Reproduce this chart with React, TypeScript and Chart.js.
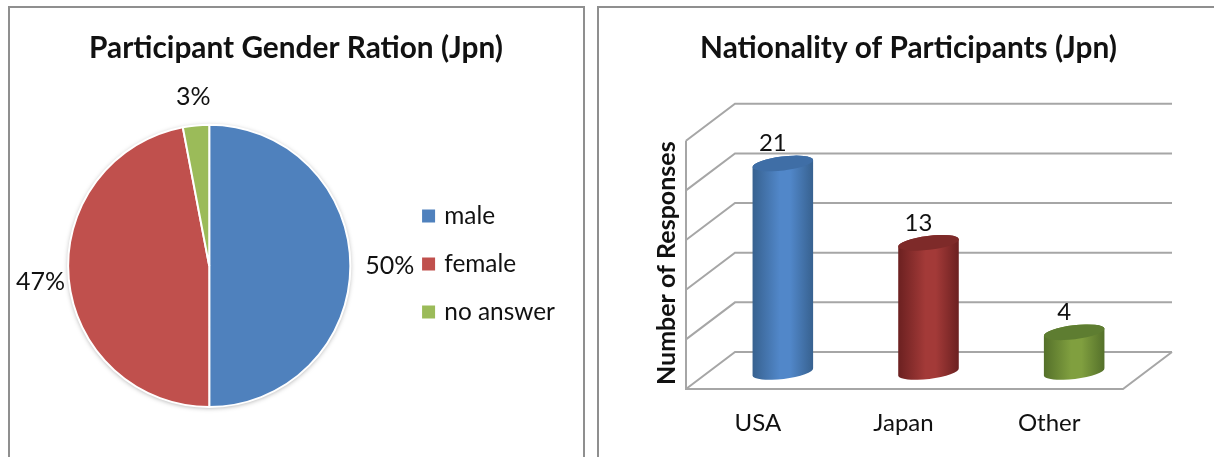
import React, { useEffect, useRef } from "react";
import { Chart, registerables } from "chart.js";

Chart.register(...registerables);

const FONT = "Lato, Carlito, 'Open Sans', sans-serif";
const INK = "#111111";
const WALL = "#a6a6a6";

// Gender pie
const genderLabels = ["male", "female", "no answer"];
const genderShares = [50, 47, 3];
const genderColors = ["#4f81bd", "#c0504d", "#9bbb59"];
const genderLabelGaps = [15, 3, 16];

// Nationality cylinders
const nationLabels = ["USA", "Japan", "Other"];
const nationCounts = [21, 13, 4];
const nationColors = ["#5187c9", "#a33a38", "#809f3f"];
const nationEdges = ["#37618f", "#6b2020", "#54702a"];
const nationCaps = ["#3f6ea6", "#7e2a29", "#5e7d31"];
const gridTicks = [0, 5, 10, 15, 20, 25];

// Depth of the pseudo-3D box relative to the plane the bars stand on.
const BACK_DX = 25;
const BACK_DY = -20;
const FRONT_DX = -24;
const FRONT_DY = 17;

// Moves the title and legend boxes after layout without disturbing the plot area.
const nudgeBoxes = (titleDx: number, legendDy: number) => ({
  id: "nudgeBoxes",
  afterLayout(chart: any) {
    if (chart.titleBlock) {
      chart.titleBlock.left += titleDx;
      chart.titleBlock.right += titleDx;
    }
    if (chart.legend && legendDy) {
      chart.legend.top += legendDy;
      chart.legend.bottom += legendDy;
    }
  },
});

const pieExtras = {
  id: "pieExtras",
  beforeDatasetsDraw(chart: any) {
    const arc = chart.getDatasetMeta(0).data[0];
    const { ctx } = chart;
    ctx.save();
    ctx.shadowColor = "rgba(0,0,0,0.35)";
    ctx.shadowBlur = 5;
    ctx.shadowOffsetY = 1;
    ctx.fillStyle = "#ffffff";
    ctx.beginPath();
    ctx.arc(arc.x, arc.y, arc.outerRadius, 0, Math.PI * 2);
    ctx.fill();
    ctx.restore();
  },
  afterDraw(chart: any) {
    const { ctx } = chart;
    ctx.save();
    ctx.font = `25px ${FONT}`;
    ctx.fillStyle = INK;
    ctx.textAlign = "center";
    ctx.textBaseline = "middle";
    chart.getDatasetMeta(0).data.forEach((arc: any, i: number) => {
      const text = `${genderShares[i]}%`;
      const mid = (arc.startAngle + arc.endAngle) / 2;
      const w = ctx.measureText(text).width;
      const reach =
        arc.outerRadius +
        genderLabelGaps[i] +
        (w / 2) * Math.abs(Math.cos(mid)) +
        11 * Math.abs(Math.sin(mid));
      ctx.fillText(text, arc.x + reach * Math.cos(mid), arc.y + reach * Math.sin(mid));
    });
    ctx.restore();
  },
};

const boxAndCylinders = {
  id: "boxAndCylinders",
  beforeDatasetsDraw(chart: any) {
    const { ctx, chartArea, scales } = chart;
    const { left, right } = chartArea;
    const y = scales.y;
    const zero = y.getPixelForValue(0);
    const top = y.getPixelForValue(25);

    // Side wall, back wall rules and floor
    ctx.save();
    ctx.strokeStyle = WALL;
    ctx.lineWidth = 2;
    ctx.beginPath();
    gridTicks.forEach((v) => {
      const py = y.getPixelForValue(v);
      ctx.moveTo(left + FRONT_DX, py + FRONT_DY);
      ctx.lineTo(left + BACK_DX, py + BACK_DY);
      ctx.lineTo(right + BACK_DX, py + BACK_DY);
    });
    ctx.moveTo(left + FRONT_DX, top + FRONT_DY);
    ctx.lineTo(left + FRONT_DX, zero + FRONT_DY);
    ctx.lineTo(right + FRONT_DX, zero + FRONT_DY);
    ctx.lineTo(right + BACK_DX, zero + BACK_DY);
    ctx.stroke();
    ctx.restore();

    // Cylinders
    const tilt = (-7 * Math.PI) / 180;
    const ry = 7;
    chart.getDatasetMeta(0).data.forEach((bar: any, i: number) => {
      const rx = bar.width / 2;
      const g = ctx.createLinearGradient(bar.x - rx, 0, bar.x + rx, 0);
      g.addColorStop(0, nationEdges[i]);
      g.addColorStop(0.45, nationColors[i]);
      g.addColorStop(0.62, nationColors[i]);
      g.addColorStop(1, nationEdges[i]);
      ctx.save();
      ctx.fillStyle = g;
      ctx.beginPath();
      ctx.ellipse(bar.x, bar.base, rx, ry, tilt, 0, Math.PI);
      ctx.ellipse(bar.x, bar.y, rx, ry, tilt, Math.PI, Math.PI * 2);
      ctx.closePath();
      ctx.fill();
      ctx.fillStyle = nationCaps[i];
      ctx.beginPath();
      ctx.ellipse(bar.x, bar.y, rx, ry, tilt, 0, Math.PI * 2);
      ctx.fill();
      ctx.restore();
    });
    return false;
  },
  afterDraw(chart: any) {
    const { ctx } = chart;
    ctx.save();
    ctx.font = `24px ${FONT}`;
    ctx.fillStyle = INK;
    ctx.textAlign = "center";
    ctx.textBaseline = "middle";
    chart.getDatasetMeta(0).data.forEach((bar: any, i: number) => {
      ctx.fillText(String(nationCounts[i]), bar.x - 10, bar.y - 20);
    });
    ctx.restore();
  },
};

const panel = (left: number, width: number): React.CSSProperties => ({
  position: "absolute",
  left,
  top: 6,
  width,
  height: 470,
  border: "2px solid #8f8f8f",
  boxSizing: "border-box",
  background: "#fff",
});

export default function App() {
  const pieRef = useRef<HTMLCanvasElement>(null);
  const barRef = useRef<HTMLCanvasElement>(null);

  useEffect(() => {
    const pie = new Chart(pieRef.current!, {
      type: "pie",
      data: {
        labels: genderLabels,
        datasets: [
          {
            data: genderShares,
            backgroundColor: genderColors,
            borderColor: "#ffffff",
            borderWidth: 2,
          },
        ],
      },
      options: {
        responsive: false,
        animation: false,
        layout: { padding: { left: 7, right: 17, top: 0, bottom: 49 } },
        plugins: {
          tooltip: { enabled: false },
          title: {
            display: true,
            text: "Participant Gender Ration (Jpn)",
            color: INK,
            font: { family: FONT, size: 29.8, weight: "bold" },
            padding: { top: 23, bottom: 57 },
          },
          legend: {
            position: "right",
            fullSize: false,
            labels: {
              color: INK,
              font: { family: FONT, size: 24.4 },
              usePointStyle: true,
              pointStyle: "rect",
              boxWidth: 7,
              boxHeight: 15,
              padding: 23.6,
            },
          },
        },
      },
      plugins: [pieExtras, nudgeBoxes(5, -2)],
    } as any);

    const bar = new Chart(barRef.current!, {
      type: "bar",
      data: {
        labels: nationLabels,
        datasets: [
          {
            data: nationCounts,
            base: 0,
            backgroundColor: nationColors,
            barThickness: 61,
          },
        ],
      },
      options: {
        responsive: false,
        animation: false,
        layout: { padding: { left: 48, right: 67, top: 0, bottom: 0 } },
        plugins: {
          legend: { display: false },
          tooltip: { enabled: false },
          title: {
            display: true,
            text: "Nationality of Participants (Jpn)",
            color: INK,
            font: { family: FONT, size: 29.8, weight: "bold" },
            padding: { top: 23, bottom: 57 },
          },
        },
        scales: {
          x: {
            grid: { display: false, drawTicks: false },
            border: { display: false },
            ticks: {
              color: INK,
              font: { family: FONT, size: 24 },
              labelOffset: -25,
              padding: 23.6,
              maxRotation: 0,
              autoSkip: false,
            },
          },
          y: {
            // Extends below zero so the axis reaches the front edge of the floor.
            min: -1.31,
            max: 25,
            afterBuildTicks(axis: any) {
              axis.ticks = gridTicks.map((value) => ({ value }));
            },
            grid: { display: false, drawTicks: false },
            border: { display: false },
            ticks: { display: false },
            title: {
              display: true,
              text: "Number of Responses",
              align: "start",
              color: INK,
              font: { family: FONT, size: 25, weight: "bold" },
              padding: { top: 0, bottom: 28 },
            },
          },
        },
      },
      plugins: [boxAndCylinders, nudgeBoxes(9, 0)],
    } as any);

    return () => {
      pie.destroy();
      bar.destroy();
    };
  }, []);

  return (
    <div style={{ position: "absolute", left: 0, top: 0, width: 1214, height: 457, overflow: "hidden", background: "#fff" }}>
      <div style={panel(8, 577)} />
      <div style={panel(597, 640)} />
      <canvas ref={pieRef} width={572} height={449} style={{ position: "absolute", left: 10, top: 8 }} />
      <canvas ref={barRef} width={610} height={453} style={{ position: "absolute", left: 604, top: 8 }} />
    </div>
  );
}
